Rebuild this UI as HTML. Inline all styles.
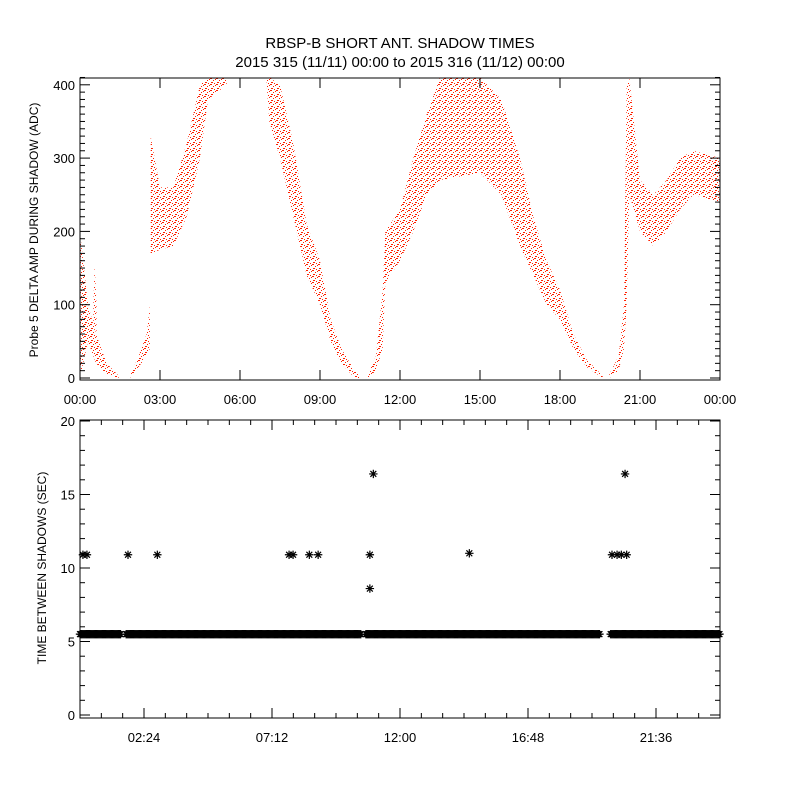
<!DOCTYPE html>
<html><head><meta charset="utf-8"><style>
html,body{margin:0;padding:0;background:#fff;}
svg text{font-family:"Liberation Sans",sans-serif;fill:#000;}
</style></head><body>
<svg id="c" width="800" height="800" xmlns="http://www.w3.org/2000/svg">
<defs>
<pattern id="dots" width="6" height="6" patternUnits="userSpaceOnUse" shape-rendering="crispEdges">
<rect x="0" y="0" width="2" height="1" fill="#ff2000"/>
<rect x="3" y="2" width="1" height="1" fill="#ff2000"/>
<rect x="1" y="4" width="2" height="1" fill="#ff2000"/>
<rect x="4" y="5" width="1" height="1" fill="#ff2000"/>
<rect x="5" y="1" width="1" height="1" fill="#ff2000"/>
</pattern>
</defs>
<text x="400" y="48" font-size="15" text-anchor="middle">RBSP-B SHORT ANT. SHADOW TIMES</text>
<text x="400" y="67" font-size="15" text-anchor="middle">2015 315 (11/11) 00:00 to 2015 316 (11/12) 00:00</text>
<g id="topg"></g>
<g id="botg"></g>
</svg>
<script>
// ---- top panel data (hours, lower ADC, upper ADC) per band segment
const segA_t=[0,0.3,0.6,1.0,1.45];const segA_lo=[0,50,20,5,0];const segA_hi=[200,100,60,20,3];
const segA2_t=[0.5,0.55,0.62];const segA2_lo=[60,70,60];const segA2_hi=[100,155,100];
const segB_t=[1.9,2.2,2.5,2.62];const segB_lo=[0,15,30,40];const segB_hi=[5,30,60,100];
const segC_t=[2.65,3.0,3.5,4.0,4.5,4.8,5.5];const segC_lo=[170,175,180,220,300,380,400];const segC_hi=[330,260,260,320,400,410,410];
const segD_t=[7.0,7.1,7.5,8.0,8.5,9.0,9.4,9.8,10.3,10.5];const segD_lo=[400,350,300,220,140,100,50,20,0,0];const segD_hi=[410,410,400,320,210,160,80,40,10,3];
const segE_t=[10.8,11.1,11.35,11.45,12.0,12.5,13.0,13.5,15.0,15.8,16.5,17.0,17.5,18.0,18.5,19.0,19.6];
const segE_lo=[0,10,40,130,160,200,250,270,280,250,180,140,100,80,40,15,0];
const segE_hi=[5,30,120,200,230,300,360,410,410,380,300,220,160,120,60,25,3];
const segF_t=[19.85,20.2,20.4,20.5,20.6];const segF_lo=[0,10,40,100,250];const segF_hi=[5,30,100,400,410];
const segG_t=[20.6,21.0,21.5,22.0,22.5,23.0,24.0];const segG_lo=[250,200,180,200,230,250,240];const segG_hi=[410,270,250,270,300,310,300];
const topXTicks=["00:00","03:00","06:00","09:00","12:00","15:00","18:00","21:00","00:00"];
const topYTicks=[0,100,200,300,400];
// ---- bottom panel data
const baseStart=[0,1.73,10.72,19.9];const baseEnd=[1.55,10.54,19.5,24];const baseVal=[5.5,5.5,5.5,5.5];
const outT=[0.11,0.26,1.8,2.9,7.84,7.99,8.6,8.93,10.87,10.87,11.0,14.6,19.95,20.14,20.3,20.5,20.44];
const outV=[10.9,10.9,10.9,10.9,10.9,10.9,10.9,10.9,8.6,10.9,16.4,11.0,10.9,10.9,10.9,10.9,16.4];
const botXTicks=["02:24","07:12","12:00","16:48","21:36"];
const botYTicks=[0,5,10,15,20];

const NS="http://www.w3.org/2000/svg";
function mk(tag,attrs,parent){const e=document.createElementNS(NS,tag);for(const k in attrs)e.setAttribute(k,attrs[k]);parent.appendChild(e);return e;}
const X0=80,X1=720;
const xs=h=>X0+(X1-X0)*h/24;
// top axes
const T0=78,T1=380;const ty=v=>378-v*0.733;
const topG=document.getElementById('topg');
const segs=[[segA_t,segA_lo,segA_hi],[segA2_t,segA2_lo,segA2_hi],[segB_t,segB_lo,segB_hi],[segC_t,segC_lo,segC_hi],[segD_t,segD_lo,segD_hi],[segE_t,segE_lo,segE_hi],[segF_t,segF_lo,segF_hi],[segG_t,segG_lo,segG_hi]];
const cl=mk('clipPath',{id:'tc'},document.querySelector('defs'));mk('rect',{x:X0,y:T0,width:X1-X0,height:T1-T0},cl);
segs.forEach((s,i)=>{
 const [t,lo,hi]=s;let pts=[];
 for(let j=0;j<t.length;j++)pts.push(xs(t[j])+','+ty(hi[j]));
 for(let j=t.length-1;j>=0;j--)pts.push(xs(t[j])+','+ty(lo[j]));
 const p=mk('polygon',{points:pts.join(' '),fill:'url(#dots)',stroke:'none','clip-path':'url(#tc)'},topG);
 
 
});
const tb=mk('rect',{x:X0,y:T0,width:X1-X0,height:T1-T0,fill:'none',stroke:'#000','stroke-width':1},topG);

for(let v=0;v<=410;v+=10){const y=ty(v);const L=(v%100==0)?10:5;
 mk('line',{x1:X0,x2:X0+L,y1:y,y2:y,stroke:'#000'},topG);mk('line',{x1:X1,x2:X1-L,y1:y,y2:y,stroke:'#000'},topG);}
topYTicks.forEach(v=>{const t=mk('text',{x:X0-5,y:ty(v)+5,'font-size':13,'text-anchor':'end'},topG);t.textContent=v;
 });
topXTicks.forEach((s,i)=>{const x=xs(i*3);
 mk('line',{x1:x,x2:x,y1:T1,y2:T1-10,stroke:'#000'},topG);mk('line',{x1:x,x2:x,y1:T0,y2:T0+10,stroke:'#000'},topG);
 const t=mk('text',{x:x,y:T1+24,'font-size':13,'text-anchor':'middle'},topG);t.textContent=s;
 });
const tyt=mk('text',{x:0,y:0,'font-size':12,'text-anchor':'middle',transform:'translate(38,230) rotate(-90)'},topG);
tyt.textContent='Probe 5 DELTA AMP DURING SHADOW (ADC)';
// bottom
const B0=420,B1=718;const by=v=>715-v*14.7;
const botG=document.getElementById('botg');
function star(x,y,g){const r=4.2;const d=`M${x-r},${y}H${x+r}M${x},${y-r}V${y+r}M${x-r*0.7},${y-r*0.7}L${x+r*0.7},${y+r*0.7}M${x-r*0.7},${y+r*0.7}L${x+r*0.7},${y-r*0.7}`;
 return mk('path',{d:d,stroke:'#000','stroke-width':1.2},g);}
baseStart.forEach((s,i)=>{const g=mk('g',{},botG);
 for(let h=s;h<=baseEnd[i];h+=0.04){star(xs(h),by(baseVal[i]),g);}});
outT.forEach((h,i)=>{const p=star(xs(h),by(outV[i]),botG);});
const bb=mk('rect',{x:X0,y:B0,width:X1-X0,height:B1-B0,fill:'none',stroke:'#000'},botG);

for(let v=0;v<=20;v+=1){const y=by(v);const L=(v%5==0)?10:5;
 mk('line',{x1:X0,x2:X0+L,y1:y,y2:y,stroke:'#000'},botG);mk('line',{x1:X1,x2:X1-L,y1:y,y2:y,stroke:'#000'},botG);}
botYTicks.forEach(v=>{const t=mk('text',{x:X0-5,y:by(v)+5,'font-size':13,'text-anchor':'end'},botG);t.textContent=v;
 });
for(let k=0;k<=30;k++){const h=k*0.8;const x=xs(h);const major=(k%3==0)&&((k/3)%2==1);const L=major?10:5;
 mk('line',{x1:x,x2:x,y1:B1,y2:B1-L,stroke:'#000'},botG);mk('line',{x1:x,x2:x,y1:B0,y2:B0+L,stroke:'#000'},botG);}
botXTicks.forEach((s,i)=>{const x=xs(2.4+i*4.8);
 const t=mk('text',{x:x,y:B1+24,'font-size':13,'text-anchor':'middle'},botG);t.textContent=s;
 });
const byt=mk('text',{x:0,y:0,'font-size':12,'text-anchor':'middle',transform:'translate(46,568) rotate(-90)'},botG);
byt.textContent='TIME BETWEEN SHADOWS (SEC)';
</script>
</body></html>
